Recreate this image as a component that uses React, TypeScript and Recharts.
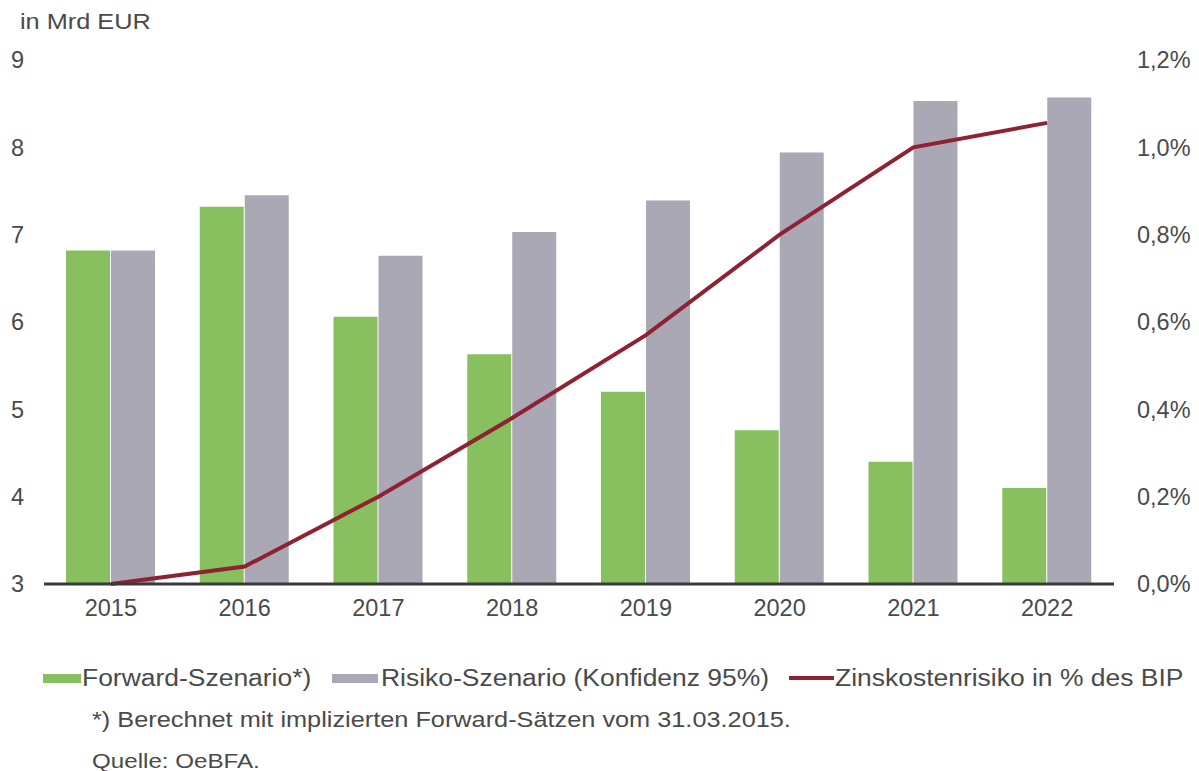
import React from 'react'
import { ComposedChart, Bar, Line, XAxis, YAxis } from 'recharts'

const years = ['2015', '2016', '2017', '2018', '2019', '2020', '2021', '2022']
const forwardScenario = [6.82, 7.32, 6.06, 5.63, 5.2, 4.76, 4.4, 4.1]
const riskScenario = [6.82, 7.45, 6.76, 7.03, 7.39, 7.94, 8.53, 8.57]
const interestRisk = [0.0, 0.04, 0.2, 0.38, 0.57, 0.8, 1.0, 1.056]
const leftTicks = [3, 4, 5, 6, 7, 8, 9]
const rightTicks = [0, 0.2, 0.4, 0.6, 0.8, 1.0, 1.2]

const data = years.map((year, i) => ({
  year,
  forward: forwardScenario[i],
  risk: riskScenario[i],
  rate: interestRisk[i],
}))

const FONT = '"Liberation Sans", Arial, sans-serif'
const TEXT = '#4a4a4a'
const GREEN = '#88c060'
const GREY = '#aba8b5'
const RED = '#8e2232'

const formatPercent = (value: number) => `${value.toFixed(1).replace('.', ',')}%`

// the source text is a little wider than Arial, so stretch it a bit
const Wide = ({ children, left, top, size }: { children: React.ReactNode; left: number; top: number; size: number }) => (
  <div
    style={{
      position: 'absolute',
      left,
      top,
      fontSize: size,
      lineHeight: `${size}px`,
      whiteSpace: 'nowrap',
      transform: 'scaleX(1.15)',
      transformOrigin: 'left center',
    }}
  >
    {children}
  </div>
)

export default function App() {
  const tickStyle = { fill: TEXT, fontSize: 23.5, fontFamily: FONT }

  return (
    <div
      style={{
        position: 'absolute',
        left: 0,
        top: 0,
        width: 1199,
        height: 771,
        overflow: 'hidden',
        background: '#fff',
        fontFamily: FONT,
        color: TEXT,
      }}
    >
      <Wide left={20} top={11} size={22}>in Mrd EUR</Wide>
      <ComposedChart
        width={1199}
        height={771}
        data={data}
        margin={{ top: 60, right: 0, bottom: 147, left: 0 }}
        barGap={1}
      >
        <XAxis
          dataKey="year"
          height={40}
          tickLine={false}
          tickSize={0}
          tickMargin={15}
          axisLine={{ stroke: '#3a3a3a', strokeWidth: 3 }}
          tick={tickStyle}
        />
        <YAxis
          yAxisId="left"
          width={44}
          domain={[3, 9]}
          ticks={leftTicks}
          axisLine={false}
          tickLine={false}
          tickSize={0}
          tickMargin={20}
          tick={tickStyle}
        />
        <YAxis
          yAxisId="right"
          orientation="right"
          width={85}
          domain={[0, 1.2]}
          ticks={rightTicks}
          tickFormatter={formatPercent}
          axisLine={false}
          tickLine={false}
          tickSize={0}
          tickMargin={23}
          tick={{ ...tickStyle, textAnchor: 'start' }}
        />
        <Bar
          yAxisId="left"
          dataKey="forward"
          name="Forward-Szenario*)"
          fill={GREEN}
          barSize={44}
          isAnimationActive={false}
        />
        <Bar
          yAxisId="left"
          dataKey="risk"
          name="Risiko-Szenario (Konfidenz 95%)"
          fill={GREY}
          barSize={44}
          isAnimationActive={false}
        />
        <Line
          yAxisId="right"
          dataKey="rate"
          name="Zinskostenrisiko in % des BIP"
          stroke={RED}
          strokeWidth={4}
          dot={false}
          activeDot={false}
          isAnimationActive={false}
        />
      </ComposedChart>

      {/* legend */}
      <div style={{ position: 'absolute', left: 43, top: 674, width: 38, height: 9, background: GREEN }} />
      <Wide left={82} top={667} size={23}>Forward-Szenario*)</Wide>
      <div style={{ position: 'absolute', left: 332, top: 674, width: 46, height: 9, background: GREY }} />
      <Wide left={381} top={667} size={23}>Risiko-Szenario (Konfidenz 95%)</Wide>
      <div style={{ position: 'absolute', left: 789, top: 676, width: 45, height: 4, background: RED }} />
      <Wide left={835} top={667} size={23}>Zinskostenrisiko in % des BIP</Wide>

      <Wide left={92} top={709} size={22}>*) Berechnet mit implizierten Forward-Sätzen vom 31.03.2015.</Wide>
      <Wide left={92} top={750} size={21}>Quelle: OeBFA.</Wide>
    </div>
  )
}
